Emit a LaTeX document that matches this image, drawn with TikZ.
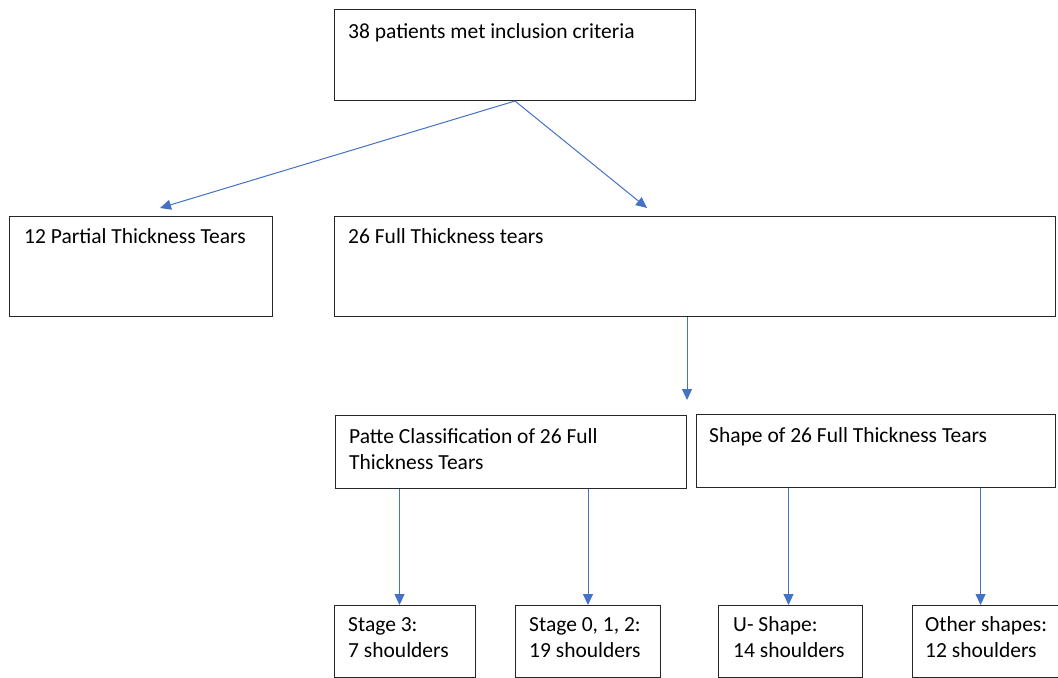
\documentclass[tikz,border=0pt]{standalone}
\usepackage{fontspec}
\setmainfont{Carlito}
\usetikzlibrary{arrows.meta}
\definecolor{arrowblue}{HTML}{4472C4}
\begin{document}
\begin{tikzpicture}[x=1bp,y=-1bp,
  box/.style={draw=black!85, line width=1bp, inner sep=0pt, anchor=north west},
  txt/.style={inner sep=0pt, anchor=base west, align=left, font=\fontsize{21.5bp}{26bp}\selectfont, text=black},
  arr/.style={draw=arrowblue, line width=1bp, -{Triangle[length=11bp,width=10bp]}}]
\useasboundingbox (0,0) rectangle (1058,678);
\clip (0,0) rectangle (1058,678);
\fill[white] (0,0) rectangle (1058,678);
% boxes
\node[box, minimum width=361bp, minimum height=91bp] (top) at (334,9) {};
\node[box, minimum width=263bp, minimum height=100bp] (left) at (9,216) {};
\node[box, minimum width=721bp, minimum height=100bp] (mid) at (334,216) {};
\node[box, minimum width=351bp, minimum height=73bp] (patte) at (335,415) {};
\node[box, minimum width=359bp, minimum height=73bp] (shape) at (696,414) {};
\node[box, minimum width=141bp, minimum height=72bp] (s3) at (334,605) {};
\node[box, minimum width=145bp, minimum height=72bp] (s012) at (515,605) {};
\node[box, minimum width=144bp, minimum height=72bp] (u) at (718,605) {};
\node[box, minimum width=160bp, minimum height=72bp] (oth) at (912,605) {};
% texts (base west = baseline of the last line)
\node[txt] (ttop) at ([shift={(14,30)}]top.north west) {38 patients met inclusion criteria};
\node[txt] (tleft) at ([shift={(15,27)}]left.north west) {12 Partial Thickness Tears};
\node[txt] (tmid) at ([shift={(14,27)}]mid.north west) {26 Full Thickness tears};
\node[txt] (tpatte) at ([shift={(14,54)}]patte.north west) {Patte Classification of 26 Full\\Thickness Tears};
\node[txt] (tshape) at ([shift={(13,28)}]shape.north west) {Shape of 26 Full Thickness Tears};
\node[txt] (ts3) at ([shift={(14,52)}]s3.north west) {Stage 3:\\7 shoulders};
\node[txt] (ts012) at ([shift={(14,52)}]s012.north west) {Stage 0, 1, 2:\\19 shoulders};
\node[txt] (tu) at ([shift={(15,52)}]u.north west) {U- Shape:\\14 shoulders};
\node[txt] (toth) at ([shift={(13,52)}]oth.north west) {Other shapes:\\12 shoulders};
% connectors
\draw[arr] (top.south) -- ([shift={(151,-8)}]left.north west);
\draw[arr] (top.south) -- ([shift={(313,-8)}]mid.north west);
\draw[arr] (mid.south -| patte.north east) -- ([shift={(0,-15)}]patte.north east);
\draw[arr] ([xshift=-5.5]s3.north |- patte.south) -- ([xshift=-5.5]s3.north);
\draw[arr] (s012.north |- patte.south) -- (s012.north);
\draw[arr] ([xshift=-2]u.north |- shape.south) -- ([xshift=-2]u.north);
\draw[arr] ([xshift=-12]oth.north |- shape.south) -- ([xshift=-12]oth.north);
\end{tikzpicture}
\end{document}
